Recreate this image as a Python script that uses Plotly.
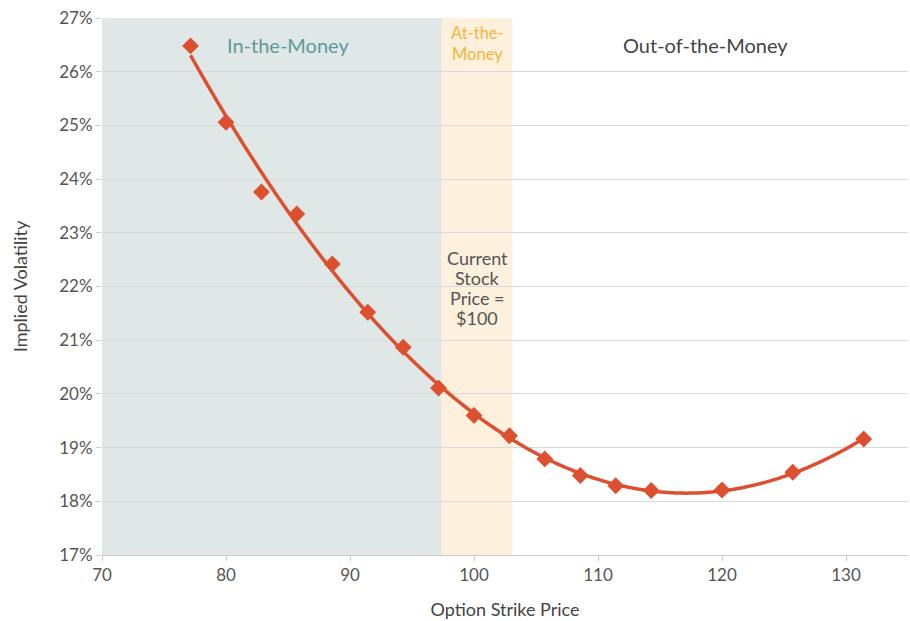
import numpy as np
import plotly.graph_objects as go

# ---- data ----
strike_prices = [77.14, 80.00, 82.86, 85.71, 88.57, 91.43, 94.29, 97.14, 100.00,
                 102.86, 105.71, 108.57, 111.43, 114.29, 120.00, 125.71, 131.43]
implied_vol = [0.2648, 0.2506, 0.2376, 0.2335, 0.2242, 0.2152, 0.2087, 0.2011, 0.1960,
               0.1922, 0.1879, 0.1848, 0.1829, 0.1820, 0.1821, 0.1854, 0.1916]
itm_range = [70, 97.4]
atm_range = [97.4, 103.1]
zone_labels = ["In-the-Money", "At-the-<br>Money", "Out-of-the-Money"]
stock_note = ["Current", "Stock", "Price =", "$100"]
y_ticks = [0.17, 0.18, 0.19, 0.20, 0.21, 0.22, 0.23, 0.24, 0.25, 0.26, 0.27]
x_ticks = [70, 80, 90, 100, 110, 120, 130]

FONT = "Lato, 'Open Sans', sans-serif"
RED = "#dc4f2f"

# polynomial trendline fitted to the points
coef = np.polyfit(strike_prices, implied_vol, 3)
tx = np.linspace(min(strike_prices), max(strike_prices), 400)
ty = np.polyval(coef, tx)

fig = go.Figure()
fig.add_trace(go.Scatter(x=tx, y=ty, mode="lines", line_shape="spline",
                         line=dict(color=RED, width=3.5), hoverinfo="skip",
                         showlegend=False))
fig.add_trace(go.Scatter(x=strike_prices, y=implied_vol, mode="markers",
                         marker=dict(symbol="diamond", size=13, color=RED),
                         showlegend=False))

fig.add_shape(type="rect", xref="x", yref="paper", x0=itm_range[0], x1=itm_range[1],
              y0=0, y1=1, fillcolor="#e0e8e7", line_width=0, layer="below")
fig.add_shape(type="rect", xref="x", yref="paper", x0=atm_range[0], x1=atm_range[1],
              y0=0, y1=1, fillcolor="#fdf0dc", line_width=0, layer="below")

atm_mid = sum(atm_range) / 2
fig.add_annotation(x=85, y=0.2650, text=zone_labels[0], showarrow=False,
                   font=dict(family=FONT, size=20, color="#5b9b96"))
fig.add_annotation(x=atm_mid, y=0.2652, text=zone_labels[1], showarrow=False,
                   font=dict(family=FONT, size=16.5, color="#f5b53a"))
fig.add_annotation(x=118.7, y=0.2650, text=zone_labels[2], showarrow=False,
                   font=dict(family=FONT, size=20, color="#444444"))
for i, line in enumerate(stock_note):
    fig.add_annotation(x=atm_mid, y=0.2253 - i * 0.00372, text=line, showarrow=False,
                       font=dict(family=FONT, size=18, color="#555555"))

fig.update_layout(
    width=910, height=621,
    margin=dict(l=102, r=2, t=18, b=66),
    paper_bgcolor="white", plot_bgcolor="white",
    font=dict(family=FONT, color="#555555", size=17),
    xaxis=dict(range=[70, 135.0], tickvals=x_ticks, showgrid=False, automargin=False,
               showline=True, linecolor="#cccccc", linewidth=1,
               ticks="outside", ticklen=5, tickcolor="#cccccc",
               tickfont=dict(size=17, color="#555555"),
               title=dict(text="Option Strike Price", font=dict(size=18, color="#444444"),
                          standoff=18),
               zeroline=False),
    yaxis=dict(range=[0.17, 0.27], tickvals=y_ticks, tickformat=".0%", automargin=False,
               showgrid=True, gridcolor="#d9d9d9", gridwidth=1,
               ticks="outside", ticklen=5, tickcolor="#cccccc",
               tickfont=dict(size=17, color="#555555"),
               title=dict(text="Implied Volatility", font=dict(size=18, color="#444444"),
                          standoff=26),
               zeroline=False),
)

fig.write_html("out.html", config={"displayModeBar": False},
               post_script="document.body.style.margin='0';document.body.style.overflow='hidden';")
